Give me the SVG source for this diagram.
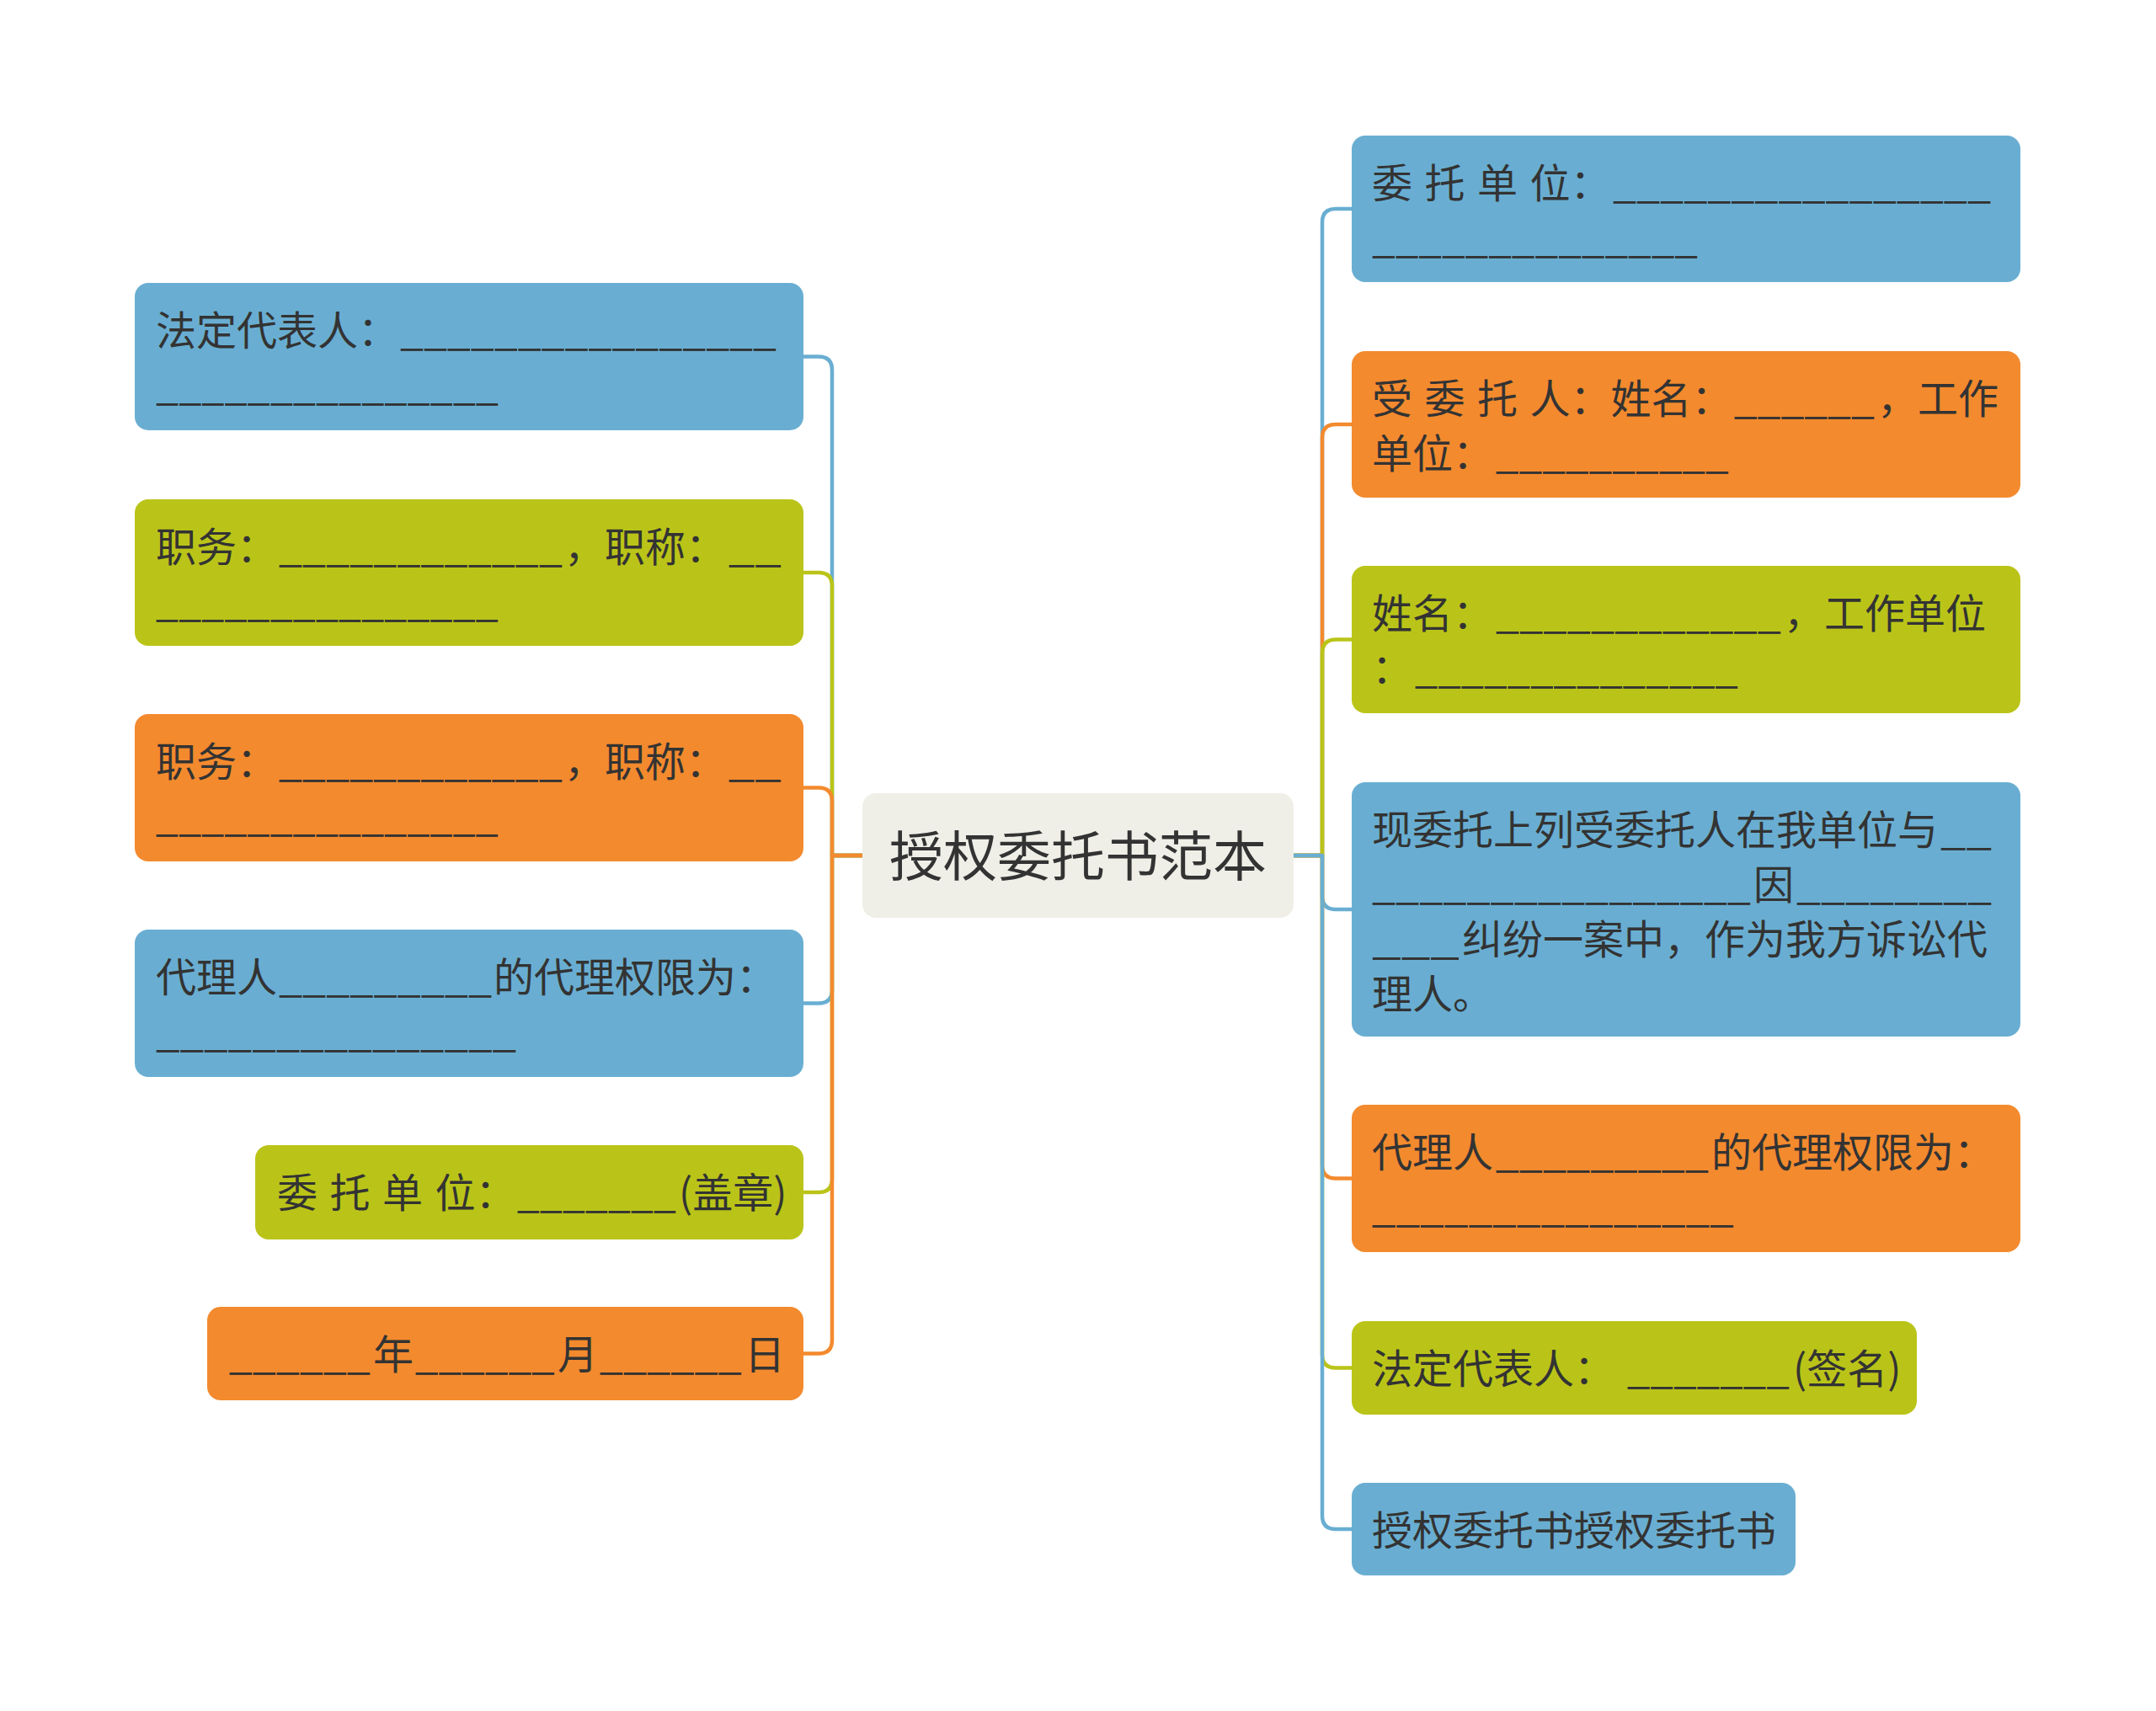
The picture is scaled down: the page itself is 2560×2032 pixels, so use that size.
<svg xmlns="http://www.w3.org/2000/svg" width="2560" height="2032" viewBox="0 0 2560 2032">
<style>
.t{font-family:"Noto Sans CJK SC","Noto Sans",sans-serif;font-size:48px;fill:#333333;}
.c{font-family:"Noto Sans CJK SC","Noto Sans",sans-serif;font-size:64px;fill:#333333;}
.blue{fill:#69AED2;}
.green{fill:#BAC418;}
.orange{fill:#F38A2E;}
.lk{fill:none;stroke-width:4.5;stroke-linejoin:round;}
.lb{stroke:#69AED2;}
.lg{stroke:#BAC418;}
.lo{stroke:#F38A2E;}
</style>
<rect width="2560" height="2032" fill="#ffffff"/>
<g id="connectors">
<path class="lk lb" d="M1024 1016 H988 V439.5 Q988 423.5 972 423.5 H954"/>
<path class="lk lg" d="M1024 1016 H988 V696 Q988 680 972 680 H954"/>
<path class="lk lo" d="M1024 1016 H988 V951.5 Q988 935.5 972 935.5 H954"/>
<path class="lk lb" d="M1024 1016 H988 V1175.5 Q988 1191.5 972 1191.5 H954"/>
<path class="lk lg" d="M1024 1016 H988 V1400 Q988 1416 972 1416 H954"/>
<path class="lk lo" d="M1024 1016 H988 V1591.5 Q988 1607.5 972 1607.5 H954"/>
<path class="lk lb" d="M1536 1016 H1570 V264 Q1570 248 1586 248 H1605"/>
<path class="lk lo" d="M1536 1016 H1570 V520 Q1570 504 1586 504 H1605"/>
<path class="lk lg" d="M1536 1016 H1570 V775.5 Q1570 759.5 1586 759.5 H1605"/>
<path class="lk lb" d="M1536 1016 H1570 V1064 Q1570 1080 1586 1080 H1605"/>
<path class="lk lo" d="M1536 1016 H1570 V1383.5 Q1570 1399.5 1586 1399.5 H1605"/>
<path class="lk lg" d="M1536 1016 H1570 V1608.5 Q1570 1624.5 1586 1624.5 H1605"/>
<path class="lk lb" d="M1536 1016 H1570 V1800 Q1570 1816 1586 1816 H1605"/>
</g>
<g id="center">
<rect x="1024" y="942" width="512" height="148" rx="16" fill="#EFEFE8"/>
<text class="c" x="1280" y="1040" text-anchor="middle">授权委托书范本</text>
</g>
<g id="L1">
<rect class="blue" x="160" y="336" width="794" height="175" rx="16"/>
<text class="t"><tspan x="185" y="410">法定代表人：</tspan><tspan x="475" y="410" textLength="447" lengthAdjust="spacingAndGlyphs">________________</tspan><tspan x="185" y="475" textLength="407" lengthAdjust="spacingAndGlyphs">_______________</tspan></text>
</g>
<g id="L2">
<rect class="green" x="160" y="593" width="794" height="174" rx="16"/>
<text class="t"><tspan x="185" y="667">职务：</tspan><tspan x="331" y="667" textLength="337" lengthAdjust="spacingAndGlyphs">____________</tspan><tspan x="670" y="667">，职称：</tspan><tspan x="865" y="667" textLength="63" lengthAdjust="spacingAndGlyphs">__</tspan><tspan x="185" y="732" textLength="407" lengthAdjust="spacingAndGlyphs">_______________</tspan></text>
</g>
<g id="L3">
<rect class="orange" x="160" y="848" width="794" height="175" rx="16"/>
<text class="t"><tspan x="185" y="922">职务：</tspan><tspan x="331" y="922" textLength="337" lengthAdjust="spacingAndGlyphs">____________</tspan><tspan x="670" y="922">，职称：</tspan><tspan x="865" y="922" textLength="63" lengthAdjust="spacingAndGlyphs">__</tspan><tspan x="185" y="987" textLength="407" lengthAdjust="spacingAndGlyphs">_______________</tspan></text>
</g>
<g id="L4">
<rect class="blue" x="160" y="1104" width="794" height="175" rx="16"/>
<text class="t"><tspan x="185" y="1178">代理人</tspan><tspan x="331" y="1178" textLength="253" lengthAdjust="spacingAndGlyphs">_________</tspan><tspan x="586" y="1178">的代理权限为：</tspan><tspan x="185" y="1243" textLength="428" lengthAdjust="spacingAndGlyphs">_______________</tspan></text>
</g>
<g id="L5">
<rect class="green" x="303" y="1360" width="651" height="112" rx="16"/>
<text class="t"><tspan x="329" y="1434">委 </tspan><tspan x="391.5" y="1434">托 </tspan><tspan x="454" y="1434">单 </tspan><tspan x="516.5" y="1434">位：</tspan><tspan x="614" y="1434" textLength="189" lengthAdjust="spacingAndGlyphs">_______</tspan><tspan x="806" y="1434">(盖章)</tspan></text>
</g>
<g id="L6">
<rect class="orange" x="246" y="1552" width="708" height="111" rx="16"/>
<text class="t"><tspan x="272" y="1626" textLength="168" lengthAdjust="spacingAndGlyphs">______</tspan><tspan x="443" y="1626">年</tspan><tspan x="493" y="1626" textLength="166" lengthAdjust="spacingAndGlyphs">______</tspan><tspan x="662" y="1626">月</tspan><tspan x="712" y="1626" textLength="169" lengthAdjust="spacingAndGlyphs">______</tspan><tspan x="884" y="1626">日</tspan></text>
</g>
<g id="R1">
<rect class="blue" x="1605" y="161" width="794" height="174" rx="16"/>
<text class="t"><tspan x="1629" y="235">委 </tspan><tspan x="1691.5" y="235">托 </tspan><tspan x="1754" y="235">单 </tspan><tspan x="1816.5" y="235">位：</tspan><tspan x="1915" y="235" textLength="449" lengthAdjust="spacingAndGlyphs">________________</tspan><tspan x="1629" y="300" textLength="387" lengthAdjust="spacingAndGlyphs">______________</tspan></text>
</g>
<g id="R2">
<rect class="orange" x="1605" y="417" width="794" height="174" rx="16"/>
<text class="t"><tspan x="1629" y="491">受 </tspan><tspan x="1691.5" y="491">委 </tspan><tspan x="1754" y="491">托 </tspan><tspan x="1816.5" y="491">人：姓名：</tspan><tspan x="2059" y="491" textLength="167" lengthAdjust="spacingAndGlyphs">______</tspan><tspan x="2229" y="491">，工作</tspan><tspan x="1629" y="556">单位：</tspan><tspan x="1776" y="556" textLength="277" lengthAdjust="spacingAndGlyphs">__________</tspan></text>
</g>
<g id="R3">
<rect class="green" x="1605" y="672" width="794" height="175" rx="16"/>
<text class="t"><tspan x="1629" y="746">姓名：</tspan><tspan x="1776" y="746" textLength="339" lengthAdjust="spacingAndGlyphs">____________</tspan><tspan x="2118" y="746">，工作单位</tspan><tspan x="1629" y="811">：</tspan><tspan x="1680" y="811" textLength="384" lengthAdjust="spacingAndGlyphs">______________</tspan></text>
</g>
<g id="R4">
<rect class="blue" x="1605" y="929" width="794" height="302" rx="16"/>
<text class="t"><tspan x="1629" y="1003">现委托上列受委托人在我单位与</tspan><tspan x="2304" y="1003" textLength="61" lengthAdjust="spacingAndGlyphs">__</tspan><tspan x="1629" y="1068" textLength="450" lengthAdjust="spacingAndGlyphs">________________</tspan><tspan x="2082" y="1068">因</tspan><tspan x="2133" y="1068" textLength="232" lengthAdjust="spacingAndGlyphs">________</tspan><tspan x="1629" y="1133" textLength="104" lengthAdjust="spacingAndGlyphs">___</tspan><tspan x="1736" y="1133">纠纷一案中，作为我方诉讼代</tspan><tspan x="1629" y="1198">理人。</tspan></text>
</g>
<g id="R5">
<rect class="orange" x="1605" y="1312" width="794" height="175" rx="16"/>
<text class="t"><tspan x="1629" y="1386">代理人</tspan><tspan x="1776" y="1386" textLength="253" lengthAdjust="spacingAndGlyphs">_________</tspan><tspan x="2032" y="1386">的代理权限为：</tspan><tspan x="1629" y="1451" textLength="430" lengthAdjust="spacingAndGlyphs">_______________</tspan></text>
</g>
<g id="R6">
<rect class="green" x="1605" y="1569" width="671" height="111" rx="16"/>
<text class="t"><tspan x="1629" y="1643">法定代表人： </tspan><tspan x="1932" y="1643" textLength="193" lengthAdjust="spacingAndGlyphs">_______</tspan><tspan x="2129" y="1643">(签名)</tspan></text>
</g>
<g id="R7">
<rect class="blue" x="1605" y="1761" width="527" height="110" rx="16"/>
<text class="t" x="1629" y="1835">授权委托书授权委托书</text>
</g>
</svg>
